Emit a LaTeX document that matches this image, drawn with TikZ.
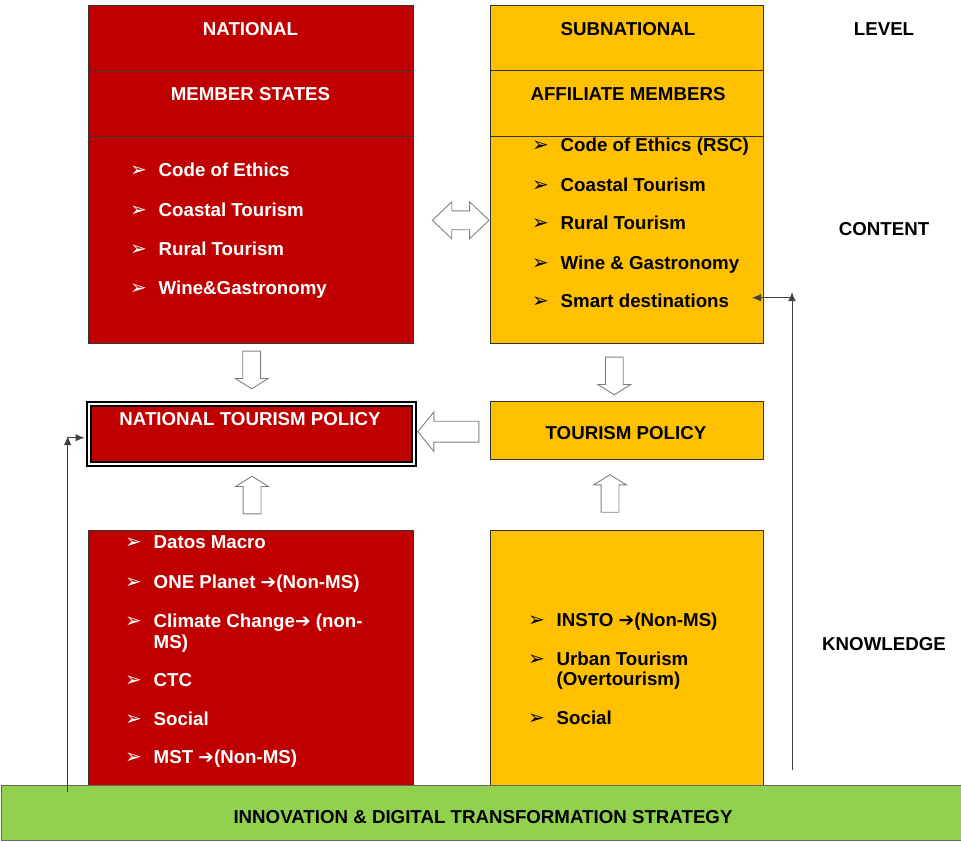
\documentclass[tikz,border=0pt]{standalone}
\usepackage{fontspec}
\setmainfont{Liberation Sans}
\newfontfamily\symfont{DejaVu Sans}
\usetikzlibrary{shapes.arrows,arrows.meta}

\definecolor{unwred}{HTML}{C00000}
\definecolor{unwgold}{HTML}{FFC000}
\definecolor{unwgreen}{HTML}{92D050}

\newcommand{\bul}{\makebox[28.5pt][l]{\symfont\mdseries\fontsize{20}{20}\selectfont ➢}}
\newcommand{\rarr}{{\symfont\mdseries ➔}}

\begin{document}
\begin{tikzpicture}
        [x=1pt,y=-1pt,>={Latex[length=9pt,width=7.5pt]},
         font=\bfseries\fontsize{18.7}{20.5}\selectfont,
         box/.style={draw=black!80,line width=0.9pt,anchor=north west,inner sep=0pt},
         redbox/.style={box,fill=unwred},
         goldbox/.style={box,fill=unwgold},
         whitetxt/.style={text=white,inner sep=0pt},
         blacktxt/.style={text=black,inner sep=0pt},
         item/.style={anchor=base west,align=left,inner sep=0pt},
         barrow/.style={single arrow,draw=black!50,fill=white,line width=0.9pt,
            inner xsep=0pt,inner ysep=8.5pt,anchor=tail,minimum height=37.6pt,
            single arrow head extend=7.5pt,single arrow tip angle=116},
         conn/.style={->,draw=black!75,line width=1pt}]

        \useasboundingbox (0,0) rectangle (961,843);

        % level / content boxes
        \node[redbox,minimum width=325pt,minimum height=338pt] (nat) at (88,5) {};
        \node[goldbox,minimum width=273pt,minimum height=338pt] (sub) at (490,5) {};
        \draw[black!80,line width=0.9pt] ([yshift=-65pt]nat.north west) -- ([yshift=-65pt]nat.north east);
        \draw[black!80,line width=0.9pt] ([yshift=-131pt]nat.north west) -- ([yshift=-131pt]nat.north east);
        \draw[black!80,line width=0.9pt] ([yshift=-65pt]sub.north west) -- ([yshift=-65pt]sub.north east);
        \draw[black!80,line width=0.9pt] ([yshift=-131pt]sub.north west) -- ([yshift=-131pt]sub.north east);

        \node[whitetxt,anchor=base] (natT) at (250.5,35.7) {NATIONAL};
        \node[whitetxt,anchor=base] (msT) at (250.5,100) {MEMBER STATES};
        \node[blacktxt,anchor=base] (subT) at (628,35.7) {SUBNATIONAL};
        \node[blacktxt,anchor=base] (amT) at (628,100) {AFFILIATE MEMBERS};

        \foreach \yy/\txt [count=\i] in {176.7/Code of Ethics,216.7/Coastal Tourism,
                255/Rural Tourism,294/Wine\&Gastronomy}
            \node[item,text=white] (ms\i) at (130,\yy) {\bul\txt};
        \foreach \yy/\txt [count=\i] in {151.7/Code of Ethics (RSC),191/Coastal Tourism,
                229.3/Rural Tourism,269.3/Wine \& Gastronomy,307.3/Smart destinations}
            \node[item,text=black] (am\i) at (532,\yy) {\bul\txt};

        % policy boxes
        \node[draw=black,double=white,double distance=1.5pt,line width=2.2pt,fill=unwred,
              anchor=north west,minimum width=325.1pt,minimum height=60.1pt,inner sep=0pt] (ntp) at (87.95,402.95) {};
        \node[whitetxt,anchor=base] (ntpT) at (250,425) {NATIONAL TOURISM POLICY};
        \node[goldbox,minimum width=273pt,minimum height=58pt] (tp) at (490,401) {};
        \node[blacktxt,anchor=base] (tpT) at (626,439.3) {TOURISM POLICY};

        % knowledge boxes
        \node[redbox,minimum width=325pt,minimum height=262pt] (nk) at (88,530) {};
        \node[goldbox,minimum width=273pt,minimum height=262pt] (sk) at (490,530) {};
        \foreach \yy/\txt [count=\i] in {548.3/Datos Macro,588.3/ONE Planet \rarr(Non-MS),
                648.3/Climate Change\rarr{} (non-\\\hspace*{28.5pt}MS),686.7/CTC,725/Social,
                763.3/MST \rarr(Non-MS)}
            \node[item,text=white] (nk\i) at (125,\yy) {\bul\txt};
        \foreach \yy/\txt [count=\i] in {626/INSTO \rarr(Non-MS),
                685.5/Urban Tourism\\\hspace*{28.5pt}(Overtourism),724/Social}
            \node[item,text=black] (sk\i) at (528,\yy) {\bul\txt};

        % side labels
        \node[blacktxt,anchor=base] (lvl) at (884,35.7) {LEVEL};
        \node[blacktxt,anchor=base] (cnt) at (884,235) {CONTENT};
        \node[blacktxt,anchor=base] (knw) at (884,650.7) {KNOWLEDGE};

        % block arrows
        \node[double arrow,draw=black!50,fill=white,line width=0.9pt,inner xsep=0pt,inner ysep=9pt,
              minimum height=56.7pt,double arrow head extend=9pt,
              double arrow tip angle=87] (link) at (460.7,220.3) {};
        \node[barrow,rotate=270] (msdown) at (251.7,350.7) {};
        \node[barrow,rotate=270] (amdown) at (614.3,356.7) {};
        \node[barrow,rotate=90] (nkup) at (252,514.3) {};
        \node[barrow,rotate=90] (skup) at (610,512.7) {};
        \node[barrow,rotate=180,minimum height=61pt,inner ysep=10pt,
              single arrow head extend=9.35pt,single arrow tip angle=102] (tpleft) at (479.3,431.7) {};

        % strategy bar
        \node[draw=black!60,line width=0.9pt,fill=unwgreen,anchor=north west,
              minimum width=962pt,minimum height=55pt,inner sep=0pt] (ids) at (1,785) {};
        \node[blacktxt,anchor=base] (idsT) at (483,823) {INNOVATION \& DIGITAL TRANSFORMATION STRATEGY};

        % feedback connectors
        \coordinate (kr0) at (792,770);
        \coordinate (kr1) at (792,292);
        \coordinate (kr2) at (792,297.7);
        \coordinate (sdin) at (752,297.7);
        \draw[conn] (kr0) -- (kr1);
        \draw[conn] (kr2) -- (sdin);
        \coordinate (kl0) at (67.7,791.7);
        \coordinate (kl1) at (67.7,436);
        \coordinate (kl2) at (67.7,437.7);
        \coordinate (ntpin) at (84.5,437.7);
        \draw[conn] (kl0) -- (kl1);
        \draw[conn] (kl2) -- (ntpin);

    \end{tikzpicture}
\end{document}
